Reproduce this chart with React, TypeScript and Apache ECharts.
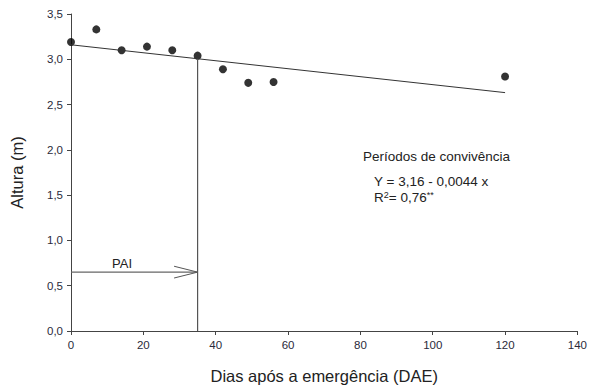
import React, { useEffect, useRef } from "react";
import * as echarts from "echarts";

const days = [0, 7, 14, 21, 28, 35, 42, 49, 56, 120];
const heights = [3.19, 3.33, 3.1, 3.14, 3.1, 3.04, 2.89, 2.74, 2.75, 2.81];
const intercept = 3.16;
const slope = -0.0044;
const fitRange = [0, 120];
const paiDay = 35;
const paiY = 0.65;
const xTicks = { min: 0, max: 140, interval: 20 };
const yTicks = { min: 0, max: 3.5, interval: 0.5 };

export default function App() {
  const ref = useRef<HTMLDivElement>(null);
  useEffect(() => {
    if (!ref.current) return;
    const chart = echarts.init(ref.current, null, { renderer: "svg" });
    const fit = fitRange.map((x) => [x, intercept + slope * x]);
    const yAtPai = intercept + slope * paiDay;
    const axisColor = "#444";
    const labelColor = "#2a2a3a";
    const font = "Liberation Sans";
    chart.setOption({
      animation: false,
      grid: { left: 71, right: 11, top: 14, bottom: 57 },
      xAxis: {
        type: "value",
        min: xTicks.min,
        max: xTicks.max,
        interval: xTicks.interval,
        name: "Dias após a emergência (DAE)",
        nameLocation: "middle",
        nameGap: 36,
        nameTextStyle: { fontSize: 16.5, color: "#222", fontFamily: font },
        axisLine: { show: true, lineStyle: { color: axisColor, width: 1 } },
        axisTick: { show: true, length: 4, lineStyle: { color: axisColor } },
        axisLabel: { fontSize: 11.5, color: labelColor, fontFamily: font, margin: 8 },
        splitLine: { show: false },
      },
      yAxis: {
        type: "value",
        min: yTicks.min,
        max: yTicks.max,
        interval: yTicks.interval,
        name: "Altura (m)",
        nameLocation: "middle",
        nameGap: 46,
        nameRotate: 90,
        nameTextStyle: { fontSize: 16.5, color: "#222", fontFamily: font },
        axisLine: { show: true, lineStyle: { color: axisColor, width: 1 } },
        axisTick: { show: true, length: 4, lineStyle: { color: axisColor } },
        axisLabel: {
          fontSize: 11.5,
          color: labelColor,
          fontFamily: font,
          margin: 8,
          formatter: (v: number) => v.toFixed(1).replace(".", ","),
        },
        splitLine: { show: false },
      },
      series: [
        {
          type: "line",
          data: fit,
          symbol: "none",
          lineStyle: { color: "#333", width: 1 },
          silent: true,
        },
        {
          type: "line",
          data: [
            [paiDay, 0],
            [paiDay, yAtPai],
          ],
          symbol: "none",
          lineStyle: { color: "#555", width: 1.2 },
          silent: true,
        },
        {
          type: "line",
          data: [
            [0, paiY],
            [paiDay, paiY],
          ],
          symbol: "none",
          lineStyle: { color: "#666", width: 1.2 },
          silent: true,
        },
        {
          type: "line",
          data: [
            [paiDay - 6.5, paiY + 0.065],
            [paiDay, paiY],
            [paiDay - 6.5, paiY - 0.065],
          ],
          symbol: "none",
          lineStyle: { color: "#555", width: 1 },
          silent: true,
        },
        {
          type: "scatter",
          data: days.map((d, i) => [d, heights[i]]),
          symbol: "circle",
          symbolSize: 8,
          itemStyle: { color: "#000" },
        },
      ],
      graphic: [
        {
          type: "text",
          left: 112,
          top: 257,
          style: { text: "PAI", fontSize: 13, fill: "#222", fontFamily: font },
        },
        {
          type: "text",
          left: 363,
          top: 149,
          style: { text: "Períodos de convivência", fontSize: 13.5, fill: "#222", fontFamily: font },
        },
        {
          type: "text",
          left: 374,
          top: 174,
          style: { text: "Y = 3,16 - 0,0044 x", fontSize: 13.5, fill: "#222", fontFamily: font },
        },
        {
          type: "text",
          left: 374,
          top: 190,
          style: {
            text: "R{s|2}= 0,76{s|**}",
            fontSize: 13.5,
            fill: "#222",
            fontFamily: font,
            rich: { s: { fontSize: 9, verticalAlign: "top", fill: "#222", fontFamily: font, padding: [0, 0, 6, 0] } },
          },
        },
      ],
    });
    return () => chart.dispose();
  }, []);
  return <div ref={ref} style={{ width: 590, height: 389, position: "absolute", left: 0, top: 0, background: "#fff" }} />;
}
